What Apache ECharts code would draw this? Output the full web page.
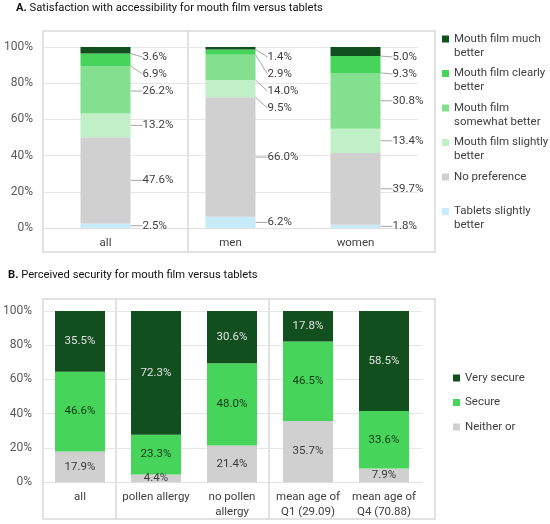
<!DOCTYPE html>
<html>
<head>
<meta charset="utf-8">
<script src="https://cdn.jsdelivr.net/npm/echarts@6/dist/echarts.min.js"></script>
<style>
  html, body { margin: 0; padding: 0; background: #fff; }
  #chart { width: 550px; height: 524px; }
</style>
</head>
<body>
<div id="chart"></div>
<script>
// Panel A: satisfaction with accessibility (stack order bottom -> top)
var groupsA = ['all', 'men', 'women'];
var tabletsSlightly = [2.5, 6.2, 1.8];
var noPreference = [47.6, 66.0, 39.7];
var filmSlightly = [13.2, 9.5, 13.4];
var filmSomewhat = [26.2, 14.0, 30.8];
var filmClearly = [6.9, 2.9, 9.3];
var filmMuch = [3.6, 1.4, 5.0];

// Panel B: perceived security
var groupsB = ['all', 'pollen allergy', 'no pollen\nallergy', 'mean age of\nQ1 (29.09)', 'mean age of\nQ4 (70.88)'];
var neitherOr = [17.9, 4.4, 21.4, 35.7, 7.9];
var secure = [46.6, 23.3, 48.0, 46.5, 33.6];
var verySecure = [35.5, 72.3, 30.6, 17.8, 58.5];

var pctTicks = [0, 20, 40, 60, 80, 100];

var namesA = ['Tablets slightly better', 'No preference', 'Mouth film slightly better',
  'Mouth film somewhat better', 'Mouth film clearly better', 'Mouth film much better'];
// leading blank line keeps the square level with the first text line
var legendTextA = {
  'Mouth film much better': '\nMouth film much\nbetter',
  'Mouth film clearly better': '\nMouth film clearly\nbetter',
  'Mouth film somewhat better': '\nMouth film\nsomewhat better',
  'Mouth film slightly better': '\nMouth film slightly\nbetter',
  'No preference': '\nNo preference\n',
  'Tablets slightly better': '\nTablets slightly\nbetter'
};
var colorsA = ['#c7ebf8', '#d0d0d0', '#c1f0c8', '#84e08f', '#47d45a', '#124f1f'];
var valuesA = [tabletsSlightly, noPreference, filmSlightly, filmSomewhat, filmClearly, filmMuch];

var namesB = ['Neither or', 'Secure', 'Very secure'];
var colorsB = ['#d0d0d0', '#47d45a', '#124f1f'];
var labelColorsB = ['#3a3a3a', '#0d3a14', '#e2e2e2'];
var valuesB = [neitherOr, secure, verySecure];

var FONT = 'Roboto';
var pctFmt = function (p) { return p.value.toFixed(1) + '%'; };

// place the outside labels of one bar: keep inside plot, push down to avoid overlap
function layoutA(p) {
  var s = p.seriesIndex, i = p.dataIndex;
  var vals = valuesA.map(function (a) { return a[i]; });
  var k = p.rect.height / vals[s];
  var below = 0;
  for (var j = 0; j < s; j++) below += vals[j];
  var y0 = p.rect.y + p.rect.height + below * k;
  var top = y0 - 100 * k;
  var centers = [], cum = 0;
  for (j = 0; j < vals.length; j++) {
    centers.push(y0 - (cum + vals[j] / 2) * k);
    cum += vals[j];
  }
  var gap = 17, prev = top + 10 - gap, pos = [];
  for (j = vals.length - 1; j >= 0; j--) {
    pos[j] = Math.max(centers[j], prev + gap);
    prev = pos[j];
  }
  return { dy: pos[s] - centers[s] };
}

var series = [];
namesA.forEach(function (n, idx) {
  series.push({
    name: n, type: 'bar', stack: 'a', xAxisIndex: 0, yAxisIndex: 0,
    data: valuesA[idx], barWidth: 50,
    itemStyle: { color: colorsA[idx] },
    label: { show: true, position: 'right', distance: 12, formatter: pctFmt,
      color: '#404040', fontSize: 11.5, fontFamily: FONT },
    labelLine: { show: true, lineStyle: { color: '#a6a6a6', width: 1 } },
    labelLayout: layoutA
  });
});
namesB.forEach(function (n, idx) {
  series.push({
    name: n, type: 'bar', stack: 'b', xAxisIndex: 1, yAxisIndex: 1,
    data: valuesB[idx], barWidth: 50,
    itemStyle: { color: colorsB[idx] },
    label: { show: true, position: 'inside', formatter: pctFmt,
      color: labelColorsB[idx], fontSize: 11.5, fontFamily: FONT }
  });
});

var yAxisBase = {
  type: 'value', min: pctTicks[0], max: pctTicks[pctTicks.length - 1],
  interval: pctTicks[1] - pctTicks[0],
  axisLabel: { formatter: '{value}%', color: '#595959', fontSize: 12, fontFamily: FONT, margin: 10 },
  splitLine: { lineStyle: { color: '#e6e6e6', width: 1 } },
  axisLine: { show: false }, axisTick: { show: false }
};
var xAxisBase = {
  type: 'category',
  axisLine: { show: true, lineStyle: { color: '#e0e0e0' } },
  axisTick: { show: false },
  axisLabel: { interval: 0, color: '#404040', fontSize: 11.5, fontFamily: FONT, lineHeight: 15 }
};

var border = { fill: 'none', stroke: '#d9d9d9', lineWidth: 1.5 };
var titleStyle = { fontSize: 11.2, fontWeight: 'normal', color: '#111', fontFamily: FONT,
  rich: { b: { fontWeight: 'bold', fontSize: 11.2, fontFamily: FONT, color: '#111' } } };

var option = {
  animation: false,
  textStyle: { fontFamily: FONT },
  title: [
    { text: '{b|A.} Satisfaction with accessibility for mouth film versus tablets',
      left: 16, top: 3, padding: 0, textStyle: titleStyle },
    { text: '{b|B.} Perceived security for mouth film versus tablets',
      left: 8, top: 270, padding: 0, textStyle: titleStyle }
  ],
  grid: [
    { left: 43, top: 47, width: 375, height: 181 },
    { left: 42, top: 311, width: 380, height: 171 }
  ],
  xAxis: [
    Object.assign({}, xAxisBase, { gridIndex: 0, data: groupsA }),
    Object.assign({}, xAxisBase, { gridIndex: 1, data: groupsB })
  ],
  yAxis: [
    Object.assign({}, yAxisBase, { gridIndex: 0 }),
    Object.assign({}, yAxisBase, { gridIndex: 1 })
  ],
  legend: [
    { data: namesA.slice().reverse(), orient: 'vertical', left: 442, top: 18, padding: 0,
      itemWidth: 7, itemHeight: 7, itemGap: -7.5, icon: 'rect',
      formatter: function (n) { return legendTextA[n]; },
      textStyle: { fontSize: 11.5, color: '#404040', fontFamily: FONT, lineHeight: 14 } },
    { data: namesB.slice().reverse(), orient: 'vertical', left: 453, top: 371, padding: 0,
      itemWidth: 7, itemHeight: 7, itemGap: 10.5, icon: 'rect',
      textStyle: { fontSize: 11.5, color: '#404040', fontFamily: FONT, lineHeight: 14 } }
  ],
  graphic: [
    { type: 'rect', shape: { x: 43, y: 31, width: 392, height: 221 }, style: border, silent: true },
    { type: 'line', shape: { x1: 188, y1: 31, x2: 188, y2: 252 }, style: border, silent: true },
    { type: 'rect', shape: { x: 43, y: 299, width: 392, height: 220 }, style: border, silent: true },
    { type: 'line', shape: { x1: 116, y1: 299, x2: 116, y2: 519 }, style: border, silent: true },
    { type: 'line', shape: { x1: 269, y1: 299, x2: 269, y2: 519 }, style: border, silent: true }
  ],
  series: series
};

var chart = echarts.init(document.getElementById('chart'), null, { renderer: 'canvas' });
chart.setOption(option);
window.addEventListener('resize', chart.resize);
</script>
</body>
</html>
